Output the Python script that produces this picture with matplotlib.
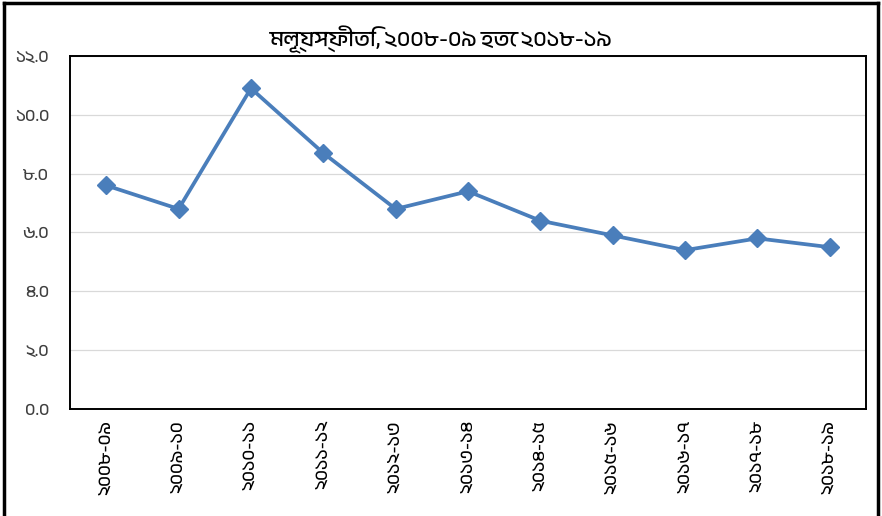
import matplotlib
matplotlib.use('Agg')
import matplotlib.pyplot as plt
from matplotlib import font_manager
from matplotlib.ft2font import FT2Font
from matplotlib.lines import Line2D

# data
years = ['২০০৮-০৯', '২০০৯-১০', '২০১০-১১', '২০১১-১২', '২০১২-১৩', '২০১৩-১৪',
         '২০১৪-১৫', '২০১৫-১৬', '২০১৬-১৭', '২০১৭-১৮', '২০১৮-১৯']
inflation = [7.6, 6.8, 10.9, 8.7, 6.8, 7.4, 6.4, 5.9, 5.4, 5.8, 5.5]
yticks = [0, 2, 4, 6, 8, 10, 12]
ytick_labels = ['০.০', '২.০', '৪.০', '৬.০', '৮.০', '১০.০', '১২.০']
title = 'মূল্যস্ফীতি, ২০০৮-০৯ হতে ২০১৮-১৯'


def find_bengali_font():
    # installed fonts with Bengali glyphs, proportional ones first
    found = []
    for f in font_manager.fontManager.ttflist:
        try:
            cmap = FT2Font(f.fname).get_charmap()
        except Exception:
            continue
        if 0x09E6 in cmap and 0x09AE in cmap:
            found.append(f.name)

    def rank(name):
        n = name.lower()
        if 'bengali' in n or 'bangla' in n:
            return 0
        if 'mono' in n:
            return 3
        if 'serif' in n:
            return 1
        return 2
    found.sort(key=rank)
    return found[0] if found else None


bn = find_bengali_font()
families = [bn, 'DejaVu Sans'] if bn else ['DejaVu Sans']
plt.rcParams['font.family'] = families

fig = plt.figure(figsize=(8.82, 5.16), dpi=100)
ax = fig.add_axes([0.0794, 0.2074, 0.9025, 0.6841])

x = list(range(len(years)))
ax.plot(x, inflation, color='#4A7EBB', lw=2.7, marker='D', markersize=9.5,
        markeredgecolor='#4A7EBB', markerfacecolor='#4A7EBB', zorder=3)

ax.set_xlim(-0.5, len(years) - 0.5)
ax.set_ylim(0, 12)
ax.set_yticks(yticks)
ax.set_yticklabels(ytick_labels, fontsize=12.5, color='#404040')
ax.set_xticks(x)
ax.set_xticklabels(years, rotation=90, fontsize=13)
ax.tick_params(axis='both', length=0)
ax.tick_params(axis='y', pad=15)
ax.tick_params(axis='x', pad=8)

ax.grid(axis='y', color='#D9D9D9', lw=0.9)
ax.set_axisbelow(True)
for s in ax.spines.values():
    s.set_color('black')
    s.set_linewidth(1.4)

fig.text(0.5, 0.922, title, ha='center', va='center', fontsize=16,
         fontweight='bold')

# outer chart border (bottom cut off in the reference)
fig.add_artist(Line2D([0.004, 0.004], [0, 0.995], color='black', lw=2.5))
fig.add_artist(Line2D([0.004, 0.996], [0.995, 0.995], color='black', lw=2.5))
fig.add_artist(Line2D([0.996, 0.996], [0, 0.995], color='black', lw=2.5))

fig.savefig('out.png', dpi=100, facecolor='white')
